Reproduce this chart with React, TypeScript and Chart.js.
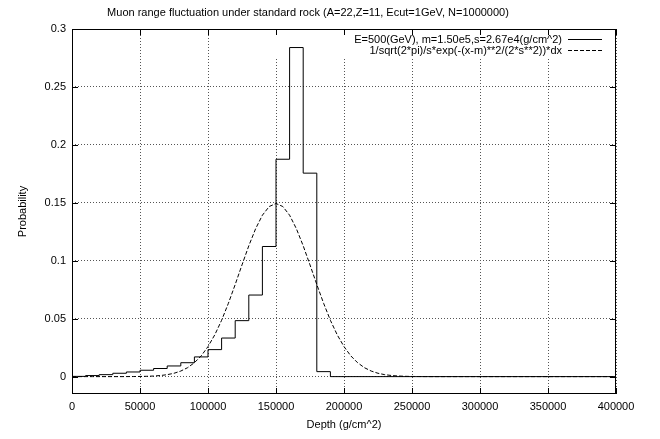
import React, { useEffect, useRef } from "react";
import { Chart, registerables } from "chart.js";

Chart.register(...registerables);

const TITLE = "Muon range fluctuation under standard rock (A=22,Z=11, Ecut=1GeV, N=1000000)";
const X_TITLE = "Depth (g/cm^2)";
const Y_TITLE = "Probability";
const LEGEND_HIST = "E=500(GeV), m=1.50e5,s=2.67e4(g/cm^2)";
const LEGEND_GAUSS = "1/sqrt(2*pi)/s*exp(-(x-m)**2/(2*s**2))*dx";

// Histogram: bin start edges and probabilities
const binStarts = [
  0, 10000, 20000, 30000, 40000, 50000, 60000, 70000, 80000, 90000,
  100000, 110000, 120000, 130000, 140000, 150000, 160000, 170000, 180000,
  190000, 400000,
];
const binProb = [
  0.0002, 0.0009, 0.0017, 0.0029, 0.004, 0.0055, 0.007, 0.0092, 0.012, 0.017,
  0.0233, 0.0333, 0.0483, 0.0704, 0.1123, 0.1876, 0.284, 0.1756, 0.0043,
  0, 0,
];

// Gaussian curve
const gaussX = [
  0, 5000, 10000, 15000, 20000, 25000, 30000, 35000, 40000, 45000,
  50000, 55000, 60000, 65000, 70000, 75000, 80000, 85000, 90000, 95000,
  100000, 105000, 110000, 115000, 120000, 125000, 130000, 135000, 140000, 145000,
  150000, 155000, 160000, 165000, 170000, 175000, 180000, 185000, 190000, 195000,
  200000, 205000, 210000, 215000, 220000, 225000, 230000, 235000, 240000, 245000,
  250000, 255000, 260000, 265000, 270000, 275000, 280000, 285000, 290000, 295000,
  300000, 400000,
];
const gaussY = [
  0, 0, 0, 0, 0, 0, 0, 0, 0.00003, 0.00007,
  0.00013, 0.00027, 0.00051, 0.00094, 0.00168, 0.00289, 0.00481, 0.00772, 0.012, 0.0179,
  0.0259, 0.0361, 0.0486, 0.0633, 0.0795, 0.0964, 0.1129, 0.1276, 0.1393, 0.1468,
  0.1494, 0.1468, 0.1393, 0.1276, 0.1129, 0.0964, 0.0795, 0.0633, 0.0486, 0.0361,
  0.0259, 0.0179, 0.012, 0.00772, 0.00481, 0.00289, 0.00168, 0.00094, 0.00051, 0.00027,
  0.00013, 0.00007, 0.00003, 0, 0, 0, 0, 0, 0, 0,
  0, 0,
];

const xTicks = [0, 50000, 100000, 150000, 200000, 250000, 300000, 350000, 400000];
const yTicks = [0, 0.05, 0.1, 0.15, 0.2, 0.25, 0.3];

const FONT = "'Liberation Sans', Arial, Helvetica, sans-serif";

const gnuplotPlugin = {
  id: "gnuplotDecor",
  beforeDatasetsDraw(chart: any) {
    const { ctx, chartArea } = chart;
    // key area clears the grid (as gnuplot does)
    ctx.save();
    ctx.fillStyle = "#fff";
    ctx.fillRect(262, chartArea.top + 1, chartArea.right - 1 - 262, 57 - chartArea.top);
    ctx.restore();
  },
  afterDraw(chart: any) {
    const { ctx, chartArea } = chart;
    const xs = chart.scales.x;
    const ys = chart.scales.y;
    const { left, right, top, bottom } = chartArea;
    ctx.save();
    ctx.strokeStyle = "#000";
    ctx.lineWidth = 1;
    ctx.setLineDash([]);
    // frame
    ctx.strokeRect(Math.round(left) + 0.5, Math.round(top) + 0.5, Math.round(right - left) - 1, Math.round(bottom - top) - 1);
    // inward ticks on all four sides
    const tl = 6;
    ctx.beginPath();
    for (const v of xTicks) {
      const px = Math.round(xs.getPixelForValue(v)) + 0.5;
      ctx.moveTo(px, bottom);
      ctx.lineTo(px, bottom - tl);
      ctx.moveTo(px, top);
      ctx.lineTo(px, top + tl);
    }
    for (const v of yTicks) {
      const py = Math.round(ys.getPixelForValue(v)) + 0.5;
      ctx.moveTo(left, py);
      ctx.lineTo(left + tl, py);
      ctx.moveTo(right, py);
      ctx.lineTo(right - tl, py);
    }
    ctx.stroke();

    // title
    ctx.fillStyle = "#000";
    ctx.font = `11px ${FONT}`;
    ctx.textAlign = "center";
    ctx.textBaseline = "middle";
    ctx.fillText(TITLE, 308, 13);

    // key
    ctx.textAlign = "right";
    ctx.fillText(LEGEND_HIST, 562, 39.5);
    ctx.fillText(LEGEND_GAUSS, 562, 50.5);
    ctx.beginPath();
    ctx.moveTo(568, 39.5);
    ctx.lineTo(602, 39.5);
    ctx.stroke();
    ctx.setLineDash([4, 2]);
    ctx.beginPath();
    ctx.moveTo(568, 50.5);
    ctx.lineTo(602, 50.5);
    ctx.stroke();
    ctx.restore();
  },
};

export default function App() {
  const canvasRef = useRef<HTMLCanvasElement | null>(null);

  useEffect(() => {
    const canvas = canvasRef.current;
    if (!canvas) return;
    const chart = new Chart(canvas, {
      type: "scatter",
      data: {
        datasets: [
          {
            label: LEGEND_HIST,
            data: binStarts.map((x, i) => ({ x, y: binProb[i] })),
            showLine: true,
            stepped: "before",
            borderColor: "#000",
            borderWidth: 1,
            pointRadius: 0,
            fill: false,
          },
          {
            label: LEGEND_GAUSS,
            data: gaussX.map((x, i) => ({ x, y: gaussY[i] })),
            showLine: true,
            borderColor: "#000",
            borderWidth: 1,
            borderDash: [4, 2],
            pointRadius: 0,
            tension: 0,
            fill: false,
          },
        ],
      },
      options: {
        responsive: false,
        animation: false,
        devicePixelRatio: 1,
        layout: { padding: { top: 29, right: 44, bottom: 0, left: 0 } },
        plugins: {
          legend: { display: false },
          title: { display: false },
          tooltip: { enabled: false },
        },
        scales: {
          x: {
            type: "linear",
            min: 0,
            max: 400000,
            afterBuildTicks: (s: any) => {
              s.ticks = xTicks.map((v) => ({ value: v }));
            },
            afterFit: (s: any) => {
              s.height = 45;
            },
            ticks: {
              autoSkip: false,
              maxRotation: 0,
              padding: 6,
              color: "#000",
              font: { family: FONT, size: 11 },
              callback: (v: any) => String(v),
            },
            grid: { color: "#555", lineWidth: 1, drawTicks: false },
            border: { display: false, dash: [1, 2] },
            title: {
              display: true,
              text: X_TITLE,
              color: "#000",
              font: { family: FONT, size: 11 },
              padding: { top: 0, bottom: 7.5 },
            },
          },
          y: {
            type: "linear",
            min: -0.015,
            max: 0.3,
            afterBuildTicks: (s: any) => {
              s.ticks = yTicks.map((v) => ({ value: v }));
            },
            afterFit: (s: any) => {
              s.width = 72;
            },
            ticks: {
              padding: 6,
              color: "#000",
              font: { family: FONT, size: 11 },
              callback: (v: any) => String(Number(Number(v).toFixed(2))),
            },
            grid: { color: "#555", lineWidth: 1, drawTicks: false },
            border: { display: false, dash: [1, 2] },
            title: {
              display: true,
              text: Y_TITLE,
              color: "#000",
              font: { family: FONT, size: 11 },
              padding: { top: 16.5, bottom: 0 },
            },
          },
        },
      },
      plugins: [gnuplotPlugin],
    } as any);
    return () => chart.destroy();
  }, []);

  return (
    <canvas
      ref={canvasRef}
      width={660}
      height={439}
      style={{ position: "absolute", left: 0, top: 0, width: 660, height: 439, display: "block", background: "#fff" }}
    />
  );
}
